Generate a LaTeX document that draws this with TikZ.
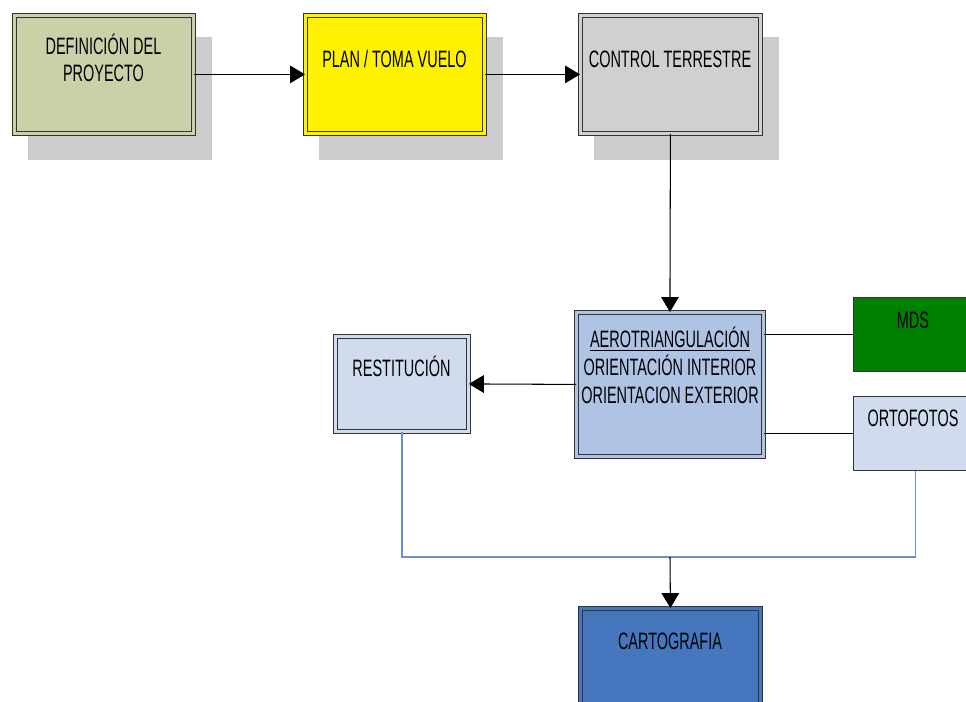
\documentclass[tikz,border=0pt]{standalone}
\usepackage{fontspec}
\setmainfont{Liberation Sans}[FakeStretch=0.61]
\usetikzlibrary{arrows.meta,backgrounds}
\definecolor{defcol}{HTML}{C9D1A9}
\definecolor{ctrlcol}{HTML}{D0D0D0}
\definecolor{shadecol}{HTML}{CCCCCC}
\definecolor{aerocol}{HTML}{AFC3E4}
\definecolor{palecol}{HTML}{D0DCEE}
\definecolor{mdscol}{HTML}{008000}
\definecolor{cartocol}{HTML}{4676BE}
\definecolor{feedcol}{HTML}{6A8FD0}

\begin{document}
\begin{tikzpicture}[x=0.02cm,y=-0.02cm,>={Triangle[length=8.5pt,width=10pt]},
  box/.style={draw=black!80,line width=0.5pt,double=#1,double distance=1.4pt,fill=#1,anchor=north west,inner sep=0pt},
  flat/.style={draw=black!80,line width=0.6pt,fill=#1,anchor=north west,inner sep=0pt},
  lbl/.style={font=\fontsize{13.5}{15.9}\selectfont,align=center,anchor=base,inner sep=0pt},
  link/.style={->,line width=0.6pt},
  wire/.style={line width=0.6pt},
  feed/.style={draw=feedcol,line width=0.8pt},
  shade/.style={fill=shadecol}]

\useasboundingbox (0,0) rectangle (966,702);

% boxes
\node[box=defcol,minimum width=3.58cm,minimum height=2.36cm](def) at (14,15){};
\node[box=yellow,minimum width=3.58cm,minimum height=2.36cm](plan) at (305,15){};
\node[box=ctrlcol,minimum width=3.6cm,minimum height=2.36cm](ctrl) at (580,15){};
\node[box=aerocol,minimum width=3.74cm,minimum height=2.88cm](aero) at (576,312){};
\node[box=palecol,minimum width=2.66cm,minimum height=1.9cm](rest) at (335,336){};
\node[box=cartocol,minimum width=3.6cm,minimum height=1.95cm](carto) at (580,608){};
\node[flat=mdscol,minimum width=2.48cm,minimum height=1.48cm](mds) at (853,297){};
\node[flat=palecol,minimum width=2.48cm,minimum height=1.48cm](orto) at (853,396){};

% shadows
\begin{scope}[on background layer]
\foreach \n in {def,plan,ctrl}
  \fill[shade] ([shift={(14,22)}]\n.north west) rectangle ([shift={(18,26)}]\n.south east);
\end{scope}

% texts (base = last line)
\node[lbl](deft) at (103.5,82){DEFINICIÓN DEL\\PROYECTO};
\node[lbl](plant) at (394.5,67.5){PLAN / TOMA VUELO};
\node[lbl](ctrlt) at (670,67.5){CONTROL TERRESTRE};
\node[lbl](aerot) at (670,403.5){\underline{AEROTRIANGULACIÓN}\\ORIENTACIÓN INTERIOR\\ORIENTACION EXTERIOR};
\node[lbl](restt) at (401.5,376.5){RESTITUCIÓN};
\node[lbl](mdst) at (913,328.5){MDS};
\node[lbl](ortot) at (913,426.5){ORTOFOTOS};
\node[lbl](cartot) at (670,649.5){CARTOGRAFIA};

% connectors
\coordinate (bus) at (670,557);
\draw[link](def.east)--(plan.west);
\draw[link](plan.east)--(ctrl.west);
\draw[link](ctrl.south)--(aero.north);
\draw[link](aero.west)--(rest.east);
\draw[wire](mds.west)--(mds.west -| aero.east);
\draw[wire](orto.west)--(orto.west -| aero.east);
\draw[feed](rest.south) |- (bus) -| (orto.south);
\draw[link](bus)--(carto.north);

\end{tikzpicture}
\end{document}
